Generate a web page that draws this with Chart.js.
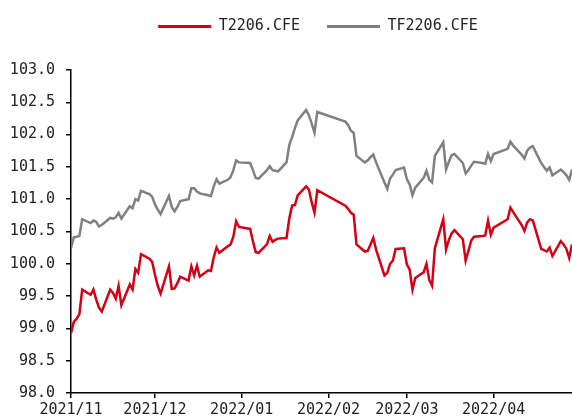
<!DOCTYPE html>
<html><head><meta charset="utf-8">
<script src="https://cdn.jsdelivr.net/npm/chart.js@4.4.0/dist/chart.umd.min.js"></script>
<style>html,body{margin:0;padding:0;background:#fff}#wrap{position:relative;width:572px;height:419px}</style>
</head><body><div id="wrap"><canvas id="c" width="572" height="419"></canvas></div>
<script>
const dates = [
'2021-11-01','2021-11-02','2021-11-03','2021-11-04','2021-11-05','2021-11-08','2021-11-09','2021-11-10','2021-11-11','2021-11-12',
'2021-11-15','2021-11-16','2021-11-17','2021-11-18','2021-11-19','2021-11-22','2021-11-23','2021-11-24','2021-11-25','2021-11-26',
'2021-11-29','2021-11-30',
'2021-12-01','2021-12-02','2021-12-03','2021-12-06','2021-12-07','2021-12-08','2021-12-09','2021-12-10','2021-12-13','2021-12-14',
'2021-12-15','2021-12-16','2021-12-17','2021-12-20','2021-12-21','2021-12-22','2021-12-23','2021-12-24','2021-12-27','2021-12-28',
'2021-12-29','2021-12-30','2021-12-31',
'2022-01-04','2022-01-05','2022-01-06','2022-01-07','2022-01-10','2022-01-11','2022-01-12','2022-01-13','2022-01-14','2022-01-17',
'2022-01-18','2022-01-19','2022-01-20','2022-01-21','2022-01-24','2022-01-25','2022-01-26','2022-01-27','2022-01-28',
'2022-02-07','2022-02-08','2022-02-09','2022-02-10','2022-02-11','2022-02-14','2022-02-15','2022-02-16','2022-02-17','2022-02-18',
'2022-02-21','2022-02-22','2022-02-23','2022-02-24','2022-02-25','2022-02-28',
'2022-03-01','2022-03-02','2022-03-03','2022-03-04','2022-03-07','2022-03-08','2022-03-09','2022-03-10','2022-03-11','2022-03-14',
'2022-03-15','2022-03-16','2022-03-17','2022-03-18','2022-03-21','2022-03-22','2022-03-23','2022-03-24','2022-03-25','2022-03-28',
'2022-03-29','2022-03-30','2022-03-31',
'2022-04-01','2022-04-06','2022-04-07','2022-04-08','2022-04-11','2022-04-12','2022-04-13','2022-04-14','2022-04-15','2022-04-18',
'2022-04-19','2022-04-20','2022-04-21','2022-04-22','2022-04-25','2022-04-26','2022-04-27','2022-04-28','2022-04-29'
];
const t2206 = [
98.93,99.10,99.15,99.22,99.60,99.52,99.60,99.45,99.32,99.26,
99.60,99.55,99.46,99.66,99.36,99.68,99.60,99.92,99.86,100.15,
100.08,100.03,
99.83,99.66,99.54,99.96,99.61,99.62,99.70,99.80,99.74,99.96,
99.82,99.97,99.80,99.90,99.89,100.10,100.25,100.17,100.27,100.30,
100.42,100.66,100.57,
100.54,100.35,100.18,100.17,100.30,100.43,100.34,100.37,100.39,100.40,
100.70,100.90,100.91,101.06,101.20,101.15,100.95,100.79,101.14,
100.90,100.85,100.79,100.76,100.30,100.19,100.20,100.30,100.40,100.22,
99.82,99.86,100.00,100.05,100.23,100.24,
99.99,99.91,99.60,99.78,99.87,100.00,99.75,99.66,100.24,100.69,
100.22,100.37,100.47,100.52,100.38,100.05,100.20,100.36,100.42,100.43,
100.44,100.67,100.45,
100.56,100.69,100.87,100.80,100.60,100.51,100.64,100.69,100.67,100.23,
100.21,100.19,100.25,100.12,100.35,100.30,100.23,100.09,100.30
];
const tf2206 = [
100.25,100.41,100.42,100.43,100.69,100.63,100.67,100.65,100.58,100.60,
100.71,100.70,100.72,100.79,100.70,100.89,100.86,101.00,100.98,101.13,
101.08,101.04,
100.92,100.84,100.77,101.05,100.88,100.81,100.88,100.97,101.00,101.17,
101.17,101.12,101.09,101.06,101.05,101.20,101.31,101.24,101.30,101.34,
101.45,101.60,101.57,
101.56,101.45,101.33,101.32,101.45,101.51,101.45,101.44,101.43,101.57,
101.84,101.96,102.10,102.22,102.38,102.30,102.17,102.03,102.35,
102.20,102.15,102.06,102.03,101.67,101.57,101.60,101.65,101.69,101.57,
101.26,101.16,101.32,101.38,101.45,101.49,
101.31,101.23,101.06,101.18,101.33,101.44,101.30,101.26,101.67,101.88,
101.46,101.58,101.68,101.70,101.56,101.40,101.45,101.52,101.58,101.56,
101.55,101.70,101.59,
101.70,101.78,101.89,101.83,101.69,101.63,101.75,101.80,101.82,101.56,
101.50,101.44,101.49,101.37,101.46,101.42,101.37,101.30,101.46
];
const seriesNames = ['T2206.CFE', 'TF2206.CFE'];
const monthTickDates = ['2021-11-01','2021-12-01','2022-01-01','2022-02-01','2022-03-01','2022-04-01'];
const monthTickLabels = ['2021/11','2021/12','2022/01','2022/02','2022/03','2022/04'];
const axisStart = '2021-11-01';
const axisEnd = '2022-04-29';
const yMin = 98, yMax = 103, yStep = 0.5;

function dayIdx(s) {
  return Math.round((Date.parse(s + 'T00:00:00Z') - Date.parse(axisStart + 'T00:00:00Z')) / 86400000);
}
const tickIdx = monthTickDates.map(dayIdx);
const ptsT = dates.map((d, i) => ({x: dayIdx(d), y: t2206[i]}));
const ptsTF = dates.map((d, i) => ({x: dayIdx(d), y: tf2206[i]}));

const FONT = '"DejaVu Sans Mono", "Liberation Mono", monospace';
Chart.defaults.font.family = FONT;
Chart.defaults.font.size = 15;
Chart.defaults.color = '#222';

const legendAdjust = {
  id: 'legendAdjust',
  beforeLayout(chart) {
    const lg = chart.legend;
    if (lg && !lg._patched) {
      const orig = lg.fit;
      lg.fit = function () { orig.call(this); this.height += 18; };
      lg._patched = true;
    }
  },
  afterLayout(chart) {
    const lg = chart.legend;
    if (lg) { lg.left += 32; lg.right += 32; lg.top -= 8; lg.bottom -= 8; }
  }
};

new Chart(document.getElementById('c'), {
  type: 'line',
  data: {
    datasets: [
      {label: seriesNames[0], data: ptsT, borderColor: '#D40016', backgroundColor: '#D40016', borderWidth: 2.5, pointRadius: 0, tension: 0},
      {label: seriesNames[1], data: ptsTF, borderColor: '#808080', backgroundColor: '#808080', borderWidth: 2.5, pointRadius: 0, tension: 0}
    ]
  },
  options: {
    responsive: false,
    devicePixelRatio: 1,
    animation: false,
    layout: {padding: {top: 0, right: 0, bottom: 0, left: 0}},
    plugins: {
      tooltip: {enabled: false},
      legend: {
        position: 'top',
        labels: {
          boxWidth: 53, boxHeight: 3, padding: 27,
          font: {family: FONT, size: 15},
          color: '#222',
          generateLabels(chart) {
            return chart.data.datasets.map((ds, i) => ({
              text: ds.label, fillStyle: ds.borderColor, strokeStyle: ds.borderColor,
              lineWidth: 0, hidden: false, datasetIndex: i, fontColor: '#222'
            }));
          }
        }
      }
    },
    scales: {
      x: {
        type: 'linear',
        min: dayIdx(axisStart), max: dayIdx(axisEnd),
        afterBuildTicks(scale) { scale.ticks = tickIdx.map(v => ({value: v})); },
        afterFit(scale) { scale.height = 26; },
        ticks: {
          autoSkip: false, maxRotation: 0, minRotation: 0, padding: 3,
          callback(v) { const k = tickIdx.indexOf(v); return k >= 0 ? monthTickLabels[k] : ''; },
          font: {family: FONT, size: 15}, color: '#222'
        },
        grid: {display: true, drawOnChartArea: false, drawTicks: true, tickLength: 5, color: '#000', lineWidth: 1.5},
        border: {display: true, color: '#000', width: 1.5}
      },
      y: {
        min: yMin, max: yMax,
        afterFit(scale) { scale.width = 71; },
        ticks: {
          stepSize: yStep, padding: 11,
          callback(v) { return Number(v).toFixed(1); },
          font: {family: FONT, size: 15}, color: '#222'
        },
        grid: {display: true, drawOnChartArea: false, drawTicks: true, tickLength: 5, color: '#000', lineWidth: 1.5},
        border: {display: true, color: '#000', width: 1.5}
      }
    }
  },
  plugins: [legendAdjust]
});
</script>
</body></html>
